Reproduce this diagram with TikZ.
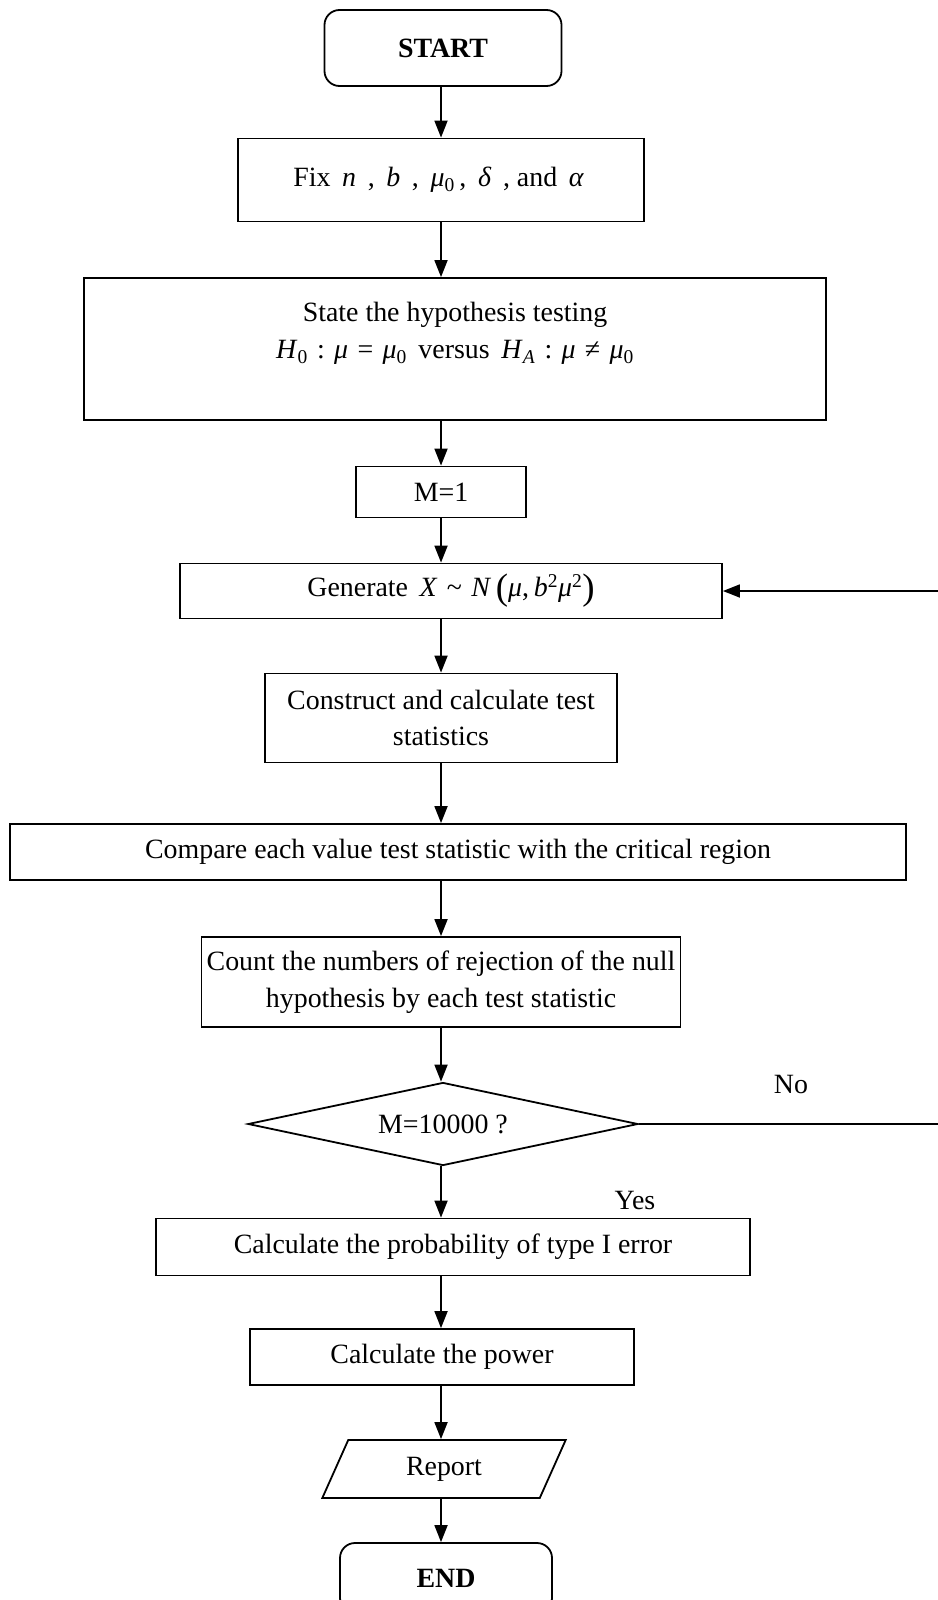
\documentclass[tikz,border=0pt]{standalone}
\usepackage{fontspec}
\setmainfont{Liberation Serif}
\usetikzlibrary{arrows.meta,shapes.geometric}
\newcommand{\vi}[1]{\,\textit{#1}\,}
\newcommand{\vs}[2]{\,\textit{#1}\textsubscript{#2}\,}
\newcommand{\bigparen}[1]{\raisebox{-0.12em}{\fontsize{37}{37}\selectfont#1}}
\begin{document}
\begin{tikzpicture}[
		x=1bp, y=-1bp,
		font=\fontsize{28}{37}\selectfont,
		line width=1.8bp,
		box/.style={draw, rectangle, inner sep=0pt, align=center},
		term/.style={box, rounded corners=15bp, font=\fontsize{28}{37}\selectfont\bfseries},
		arrow/.style={-{Triangle[length=17bp,width=13bp]}}
	]
	\useasboundingbox (0,0) rectangle (937,1600);

	\node[term, minimum width=237bp, minimum height=76bp] (start) at (443,48) {START};
	\node[box, minimum width=406bp, minimum height=83bp] (fix) at (441,180)
		{Fix\ \vi{n}\ , \vi{b}\ , \vs{μ}{0}, \vi{δ}\ , and\ \vi{α}};
	\node[box, minimum width=742bp, minimum height=142bp] (state) at (455,349)
		{State the hypothesis testing\\
		\vs{H}{0}\,:\,\vi{μ}\,=\,\vs{μ}{0} versus \vs{H}{\textit{A}}\,:\,\vi{μ}\,≠\,\vs{μ}{0}\\ ~};
	\node[box, minimum width=170bp, minimum height=51bp] (init) at (441,492) {M=1};
	\node[box, minimum width=542bp, minimum height=55bp] (gen) at (451,591)
		{Generate\ \vi{X}\,\textasciitilde\,\vi{N}\bigparen{(}\textit{μ},\,\textit{b}\textsuperscript{2}\textit{μ}\textsuperscript{2}\bigparen{)}};
	\node[box, minimum width=352bp, minimum height=89bp] (stat) at (441,718)
		{Construct and calculate test\\ statistics};
	\node[box, minimum width=896bp, minimum height=56bp] (comp) at (458,852)
		{Compare each value test statistic with the critical region};
	\node[box, minimum width=479bp, minimum height=90bp] (count) at (441,982)
		{Count the numbers of rejection of the null\\ hypothesis by each test statistic};
	\node[draw, diamond, aspect=4.7, inner sep=0pt, minimum width=390bp, minimum height=83bp] (check) at (443,1124)
		{M=10000 ?};
	\node[box, minimum width=594bp, minimum height=57bp] (prob) at (453,1247)
		{Calculate the probability of type I error};
	\node[box, minimum width=384bp, minimum height=56bp] (power) at (442,1357)
		{Calculate the power};
	\node[draw, trapezium, trapezium left angle=67, trapezium right angle=113,
		trapezium stretches=true, inner sep=0pt,
		minimum width=244bp, minimum height=58bp] (report) at (444,1469) {Report};
	\node[term, minimum width=212bp, minimum height=70bp] (stop) at (446,1578) {END};

	\draw[arrow] (start.south -| init) -- (init |- fix.north);
	\draw[arrow] (init |- fix.south) -- (init |- state.north);
	\draw[arrow] (state.south -| init) -- (init);
	\draw[arrow] (init) -- (init |- gen.north);
	\draw[arrow] (init |- gen.south) -- (init |- stat.north);
	\draw[arrow] (stat) -- (stat |- comp.north);
	\draw[arrow] (stat |- comp.south) -- (count);
	\draw[arrow] (count.south) -- (count.south |- check.north);
	\draw[arrow] (init |- check.south) -- (init |- prob.north);
	\draw[arrow] (init |- prob.south) -- (init |- power.north);
	\draw[arrow] (init |- power.south) -- (init |- report.north);
	\draw[arrow] (init |- report.south) -- (init |- stop.north);
	\draw[arrow] (check.east) -- ++(420,0) |- (gen.east);

	\node (no) at (791,1084) {No};
	\node (yes) at (635,1200) {Yes};
\end{tikzpicture}
\end{document}
